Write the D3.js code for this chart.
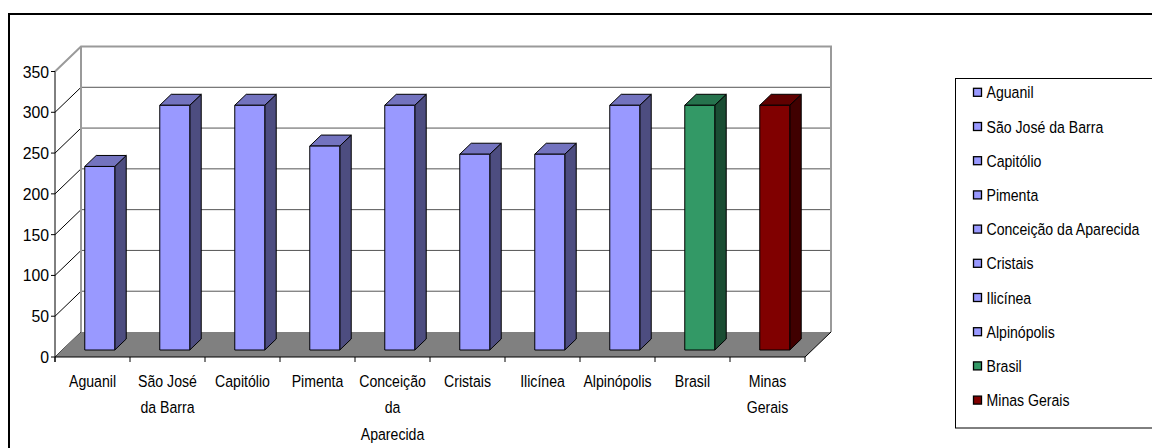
<!DOCTYPE html>
<html><head><meta charset="utf-8">
<script src="https://cdn.jsdelivr.net/npm/d3@7/dist/d3.min.js"></script>
<style>
html,body{margin:0;padding:0;background:#fff;}
svg{display:block;}
text{font-family:"Liberation Sans",Arial,sans-serif;fill:#000;}
</style></head>
<body>
<svg id="chart" width="1152" height="448"></svg>
<script>
const categories = ["Aguanil","São José da Barra","Capitólio","Pimenta","Conceição da Aparecida","Cristais","Ilicínea","Alpinópolis","Brasil","Minas Gerais"];
const values = [225,300,300,250,300,240,240,300,300,300];
const yTicks = [0,50,100,150,200,250,300,350];
const seriesColors = ["#9999FF","#9999FF","#9999FF","#9999FF","#9999FF","#9999FF","#9999FF","#9999FF","#339966","#800000"];

const svg = d3.select("#chart");

// geometry
const X0 = 55, X1 = 805, Y0 = 357;
const DX = 26, DY = 25;           // full depth offset
const x = d3.scaleBand().domain(categories).range([X0, X1]).paddingInner(0.6).paddingOuter(0.3);
const y = d3.scaleLinear().domain([0,350]).range([Y0, 71.5]);
const xb = d3.scaleBand().domain(categories).range([X0, X1]).padding(0);

// outer frame
svg.append("rect").attr("x",9).attr("y",14).attr("width",1300).attr("height",600)
  .attr("fill","#fff").attr("stroke","#000").attr("stroke-width",2);

// back wall
svg.append("rect").attr("x",X0+DX).attr("y",y(350)-DY).attr("width",X1-X0)
  .attr("height",y(0)-y(350)).attr("fill","#fff");
// left wall
svg.append("polygon").attr("points",[[X0,y(350)],[X0+DX,y(350)-DY],[X0+DX,y(0)-DY],[X0,y(0)]].join(" "))
  .attr("fill","#fff");

// back-wall gridlines
svg.append("g").selectAll("line").data(yTicks.filter(v=>v>0 && v<350)).join("line")
  .attr("x1",X0+DX).attr("x2",X1+DX).attr("y1",v=>y(v)-DY).attr("y2",v=>y(v)-DY)
  .attr("stroke","#555").attr("stroke-width",1);
// left-wall diagonals
svg.append("g").selectAll("line").data(yTicks.filter(v=>v<350)).join("line")
  .attr("x1",X0).attr("x2",X0+DX).attr("y1",v=>y(v)).attr("y2",v=>y(v)-DY)
  .attr("stroke","#000").attr("stroke-width",1);

// wall borders (gray)
const wallBorder = svg.append("g").attr("fill","none").attr("stroke","#9a9a9a").attr("stroke-width",2);
wallBorder.append("path").attr("d",`M${X0},${y(350)}L${X0+DX},${y(350)-DY}L${X1+DX},${y(350)-DY}L${X1+DX},${y(0)-DY}`);
wallBorder.append("path").attr("d",`M${X0+DX},${y(350)-DY}L${X0+DX},${y(0)-DY}`);

// floor
svg.append("polygon").attr("points",[[X0,Y0],[X0+DX,Y0-DY],[X1+DX,Y0-DY],[X1,Y0]].join(" "))
  .attr("fill","#808080");
svg.append("line").attr("x1",X1).attr("y1",Y0).attr("x2",X1+DX).attr("y2",Y0-DY)
  .attr("stroke","#000").attr("stroke-width",1);

// bars
const fD = 0.28, bD = 0.72;
function shade(c,k){const h=d3.rgb(c);return d3.rgb(h.r*k,h.g*k,h.b*k).toString();}
const bars = svg.append("g").attr("stroke","#000").attr("stroke-width",1).attr("stroke-linejoin","round");
categories.forEach((c,i)=>{
  const v = values[i], col = seriesColors[i];
  const fx = x(c) + DX*fD, fy0 = y(0) - DY*fD, fy1 = y(v) - DY*fD;
  const w = x.bandwidth();
  const ddx = DX*(bD-fD), ddy = DY*(bD-fD);
  const g = bars.append("g");
  g.append("polygon").attr("points",[[fx+w,fy1],[fx+w+ddx,fy1-ddy],[fx+w+ddx,fy0-ddy],[fx+w,fy0]].join(" "))
    .attr("fill",shade(col,0.5));
  g.append("polygon").attr("points",[[fx,fy1],[fx+ddx,fy1-ddy],[fx+w+ddx,fy1-ddy],[fx+w,fy1]].join(" "))
    .attr("fill",shade(col,0.75));
  g.append("rect").attr("x",fx).attr("y",fy1).attr("width",w).attr("height",fy0-fy1).attr("fill",col);
});

// y axis
svg.append("line").attr("x1",X0).attr("x2",X0).attr("y1",y(350)).attr("y2",Y0+5).attr("stroke","#000");
const ya = svg.append("g");
ya.selectAll("line").data(yTicks).join("line")
  .attr("x1",X0-4).attr("x2",X0).attr("y1",v=>y(v)).attr("y2",v=>y(v)).attr("stroke","#000");
ya.selectAll("text").data(yTicks).join("text")
  .attr("transform",v=>`translate(${X0-6},${y(v)+6}) scale(0.93,1)`).attr("text-anchor","end")
  .attr("font-size","17px").text(d=>d);

// x axis
svg.append("line").attr("x1",X0).attr("x2",X1).attr("y1",Y0).attr("y2",Y0).attr("stroke","#000");
const bounds = categories.map(c=>xb(c)).concat([X1]);
svg.append("g").selectAll("line").data(bounds).join("line")
  .attr("x1",d=>d).attr("x2",d=>d).attr("y1",Y0).attr("y2",Y0+5).attr("stroke","#000");

// x labels with wrapping
const SX = 0.83, FS = 17, maxW = 65, lineH = 26.7, base = 386.7;
const meas = svg.append("text").attr("font-size",FS+"px").attr("visibility","hidden");
function tw(s){meas.text(s);return meas.node().getComputedTextLength()*SX;}
const xl = svg.append("g");
categories.forEach(c=>{
  const words = c.split(" "); const lines=[]; let cur="";
  words.forEach(wd=>{const t=cur?cur+" "+wd:wd; if(cur && tw(t)>maxW){lines.push(cur);cur=wd;} else cur=t;});
  lines.push(cur);
  const cx = xb(c)+xb.bandwidth()/2;
  lines.forEach((ln,k)=>{
    xl.append("text").attr("transform",`translate(${cx},${base+k*lineH}) scale(${SX},1)`)
      .attr("text-anchor","middle").attr("font-size",FS+"px").text(ln);
  });
});
meas.remove();

// legend
svg.append("rect").attr("x",955.5).attr("y",78.5).attr("width",400).attr("height",349.5)
  .attr("fill","#fff").attr("stroke","#000").attr("stroke-width",1);
const lg = svg.append("g");
categories.forEach((c,i)=>{
  const cy = 92.8 + i*34.2;
  lg.append("rect").attr("x",973.5).attr("y",cy-4.5).attr("width",8).attr("height",8)
    .attr("fill",seriesColors[i]).attr("stroke","#000").attr("stroke-width",1.3);
  lg.append("text").attr("transform",`translate(986.5,${cy+5.5}) scale(${SX},1)`)
    .attr("font-size",FS+"px").text(c);
});
</script>
</body></html>
